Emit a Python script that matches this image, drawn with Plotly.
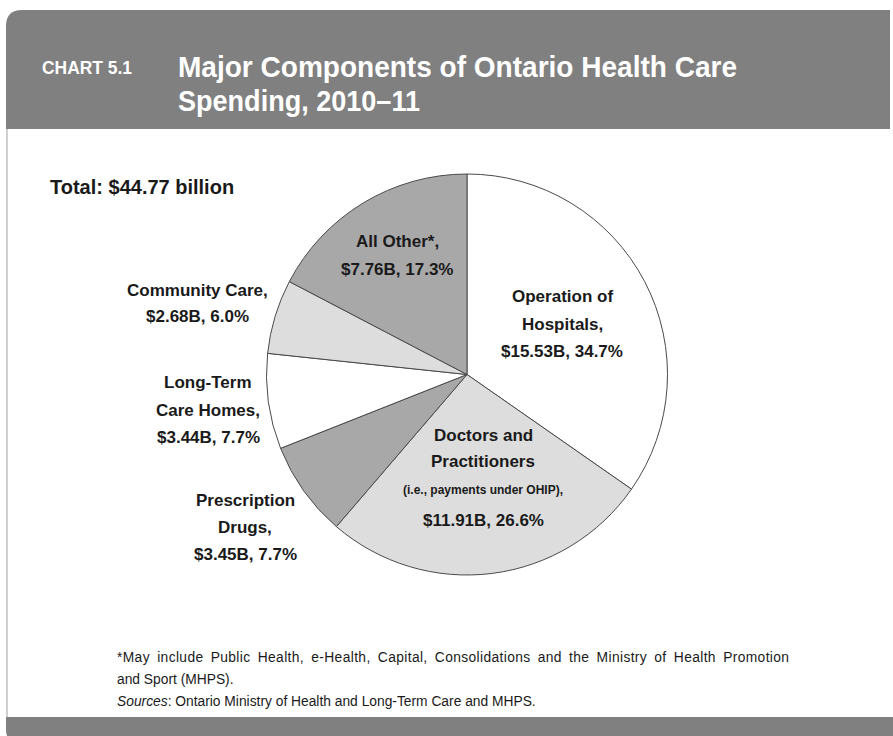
import plotly.graph_objects as go

W, H = 893, 736

# data (billions of dollars)
names = ["Operation of Hospitals", "Doctors and Practitioners", "Prescription Drugs",
         "Long-Term Care Homes", "Community Care", "All Other*"]
values = [15.53, 11.91, 3.45, 3.44, 2.68, 7.76]
colors = ["#ffffff", "#dddddd", "#a8a8a8", "#ffffff", "#dddddd", "#a8a8a8"]
total = sum(values)

# label lines for each slice (name part), value/share line is built from the data
label_lines = [
    ["Operation of", "Hospitals,"],
    ["Doctors and", "Practitioners", "(i.e., payments under OHIP),"],
    ["Prescription", "Drugs,"],
    ["Long-Term", "Care Homes,"],
    ["Community Care,"],
    ["All Other*,"],
]
label_x = [562, 483, 245, 208, 197, 397]
label_y0 = [297, 435, 500, 383, 290, 242]

def px(x):
    return x / W

def py(y):
    return 1 - y / H

cx, cy, r = 467, 374.5, 200.5

fig = go.Figure(go.Pie(
    labels=names,
    values=values,
    sort=False,
    direction="clockwise",
    rotation=0,
    marker=dict(colors=colors, line=dict(color="#4a4a4a", width=1)),
    textinfo="none",
    hoverinfo="label+value+percent",
    showlegend=False,
    domain=dict(x=[px(cx - r), px(cx + r)], y=[py(cy + r), py(cy - r)]),
))

shapes = []
# header band with rounded top-left corner
shapes.append(dict(
    type="path", xref="paper", yref="paper",
    path=("M {x0},{y1} L {x0},{yc} Q {x0},{y2} {xc},{y2} L {x3},{y2} L {x3},{y1} Z").format(
        x0=px(6), y1=py(129), yc=py(26), y2=py(10), xc=px(22), x3=px(890)),
    fillcolor="#808080", line=dict(width=0), layer="below"))
# bottom band with rounded bottom-left corner
shapes.append(dict(
    type="path", xref="paper", yref="paper",
    path=("M {x0},{y1} L {x0},{yc} Q {x0},{y2} {xc},{y2} L {x3},{y2} L {x3},{y1} Z").format(
        x0=px(6), y1=py(717), yc=py(730), y2=py(742), xc=px(18), x3=px(893)),
    fillcolor="#808080", line=dict(width=0), layer="below"))
# thin left border of the body
shapes.append(dict(type="line", xref="paper", yref="paper",
                   x0=px(7), x1=px(7), y0=py(129), y1=py(717),
                   line=dict(color="#cfcfcf", width=2), layer="below"))

ann = []
title_font = "Liberation Sans, Arial, sans-serif"
ann.append(dict(text="<b>CHART 5.1</b>", x=px(40), y=py(68), xanchor="left", yanchor="middle",
                font=dict(family=title_font, size=18, color="white")))
ann.append(dict(text="<b>Major Components of Ontario Health Care</b>", x=px(176), y=py(66),
                xanchor="left", yanchor="middle",
                font=dict(family=title_font, size=30, color="white")))
ann.append(dict(text="<b>Spending, 2010–11</b>", x=px(176), y=py(101),
                xanchor="left", yanchor="middle",
                font=dict(family=title_font, size=30, color="white")))

body_font = "Liberation Sans, Arial, sans-serif"
ann.append(dict(text="<b>Total: $%.2f billion</b>" % total, x=px(48), y=py(187),
                xanchor="left", yanchor="middle",
                font=dict(family=body_font, size=20, color="#1a1a1a")))

for i in range(len(names)):
    lines = label_lines[i] + ["$%.2fB, %.1f%%" % (values[i], values[i] / total * 100)]
    y = label_y0[i]
    for j, t in enumerate(lines):
        small = t.startswith("(i.e.")
        ann.append(dict(text="<b>%s</b>" % t, x=px(label_x[i]), y=py(y),
                        xanchor="center", yanchor="middle",
                        font=dict(family=body_font, size=12 if small else 17,
                                  color="#1a1a1a")))
        if small:
            y += 30
        elif j + 1 < len(lines) and lines[j + 1].startswith("(i.e."):
            y += 28
        else:
            y += 27

foot = ["*May include Public Health, e-Health, Capital, Consolidations and the Ministry of Health Promotion",
        "and Sport (MHPS).",
        "<i>Sources</i>: Ontario Ministry of Health and Long-Term Care and MHPS."]
for k, t in enumerate(foot):
    ann.append(dict(text=t, x=px(115), y=py(657 + 22 * k), xanchor="left", yanchor="middle",
                    font=dict(family=body_font, size=13.8, color="#1a1a1a")))

for a in ann:
    a.update(xref="paper", yref="paper", showarrow=False)

fig.update_layout(
    width=W, height=H,
    margin=dict(l=0, r=0, t=0, b=0),
    paper_bgcolor="white",
    plot_bgcolor="white",
    shapes=shapes,
    annotations=ann,
)

# no page margin; title set in a narrow face by squeezing the glyphs,
# first footnote line justified to the column width (half word gaps, half letter gaps)
post = """
document.body.style.margin = '0';
function squeeze() {
  var fits = {'CHART 5.1': [90, 'glyphs'],
              'Major Components of Ontario Health Care': [559, 'glyphs'],
              'Spending, 2010\u201311': [242, 'glyphs'],
              '*May include Public Health, e-Health, Capital, Consolidations and the Ministry of Health Promotion': [672, 'justify']};
  document.querySelectorAll('text.annotation-text').forEach(function (t) {
    var f = fits[t.textContent];
    if (f && !t.getAttribute('data-fit')) {
      var bb = t.getBBox();
      t.setAttribute('text-anchor', 'start');
      t.setAttribute('x', bb.x);
      t.querySelectorAll('tspan[x]').forEach(function (s) { s.setAttribute('x', bb.x); });
      if (f[1] === 'glyphs') {
        t.setAttribute('textLength', f[0]);
        t.setAttribute('lengthAdjust', 'spacingAndGlyphs');
      } else {
        var gaps = t.textContent.split(' ').length - 1;
        var chars = t.textContent.length - 1;
        var extra = f[0] - bb.width;
        t.style.wordSpacing = (extra * 0.5 / gaps) + 'px';
        t.style.letterSpacing = (extra * 0.5 / chars) + 'px';
      }
      t.setAttribute('data-fit', '1');
    }
  });
}
squeeze();
setTimeout(squeeze, 0);
setTimeout(squeeze, 300);
"""

fig.write_html("out.html", post_script=post, config={"displayModeBar": False})
